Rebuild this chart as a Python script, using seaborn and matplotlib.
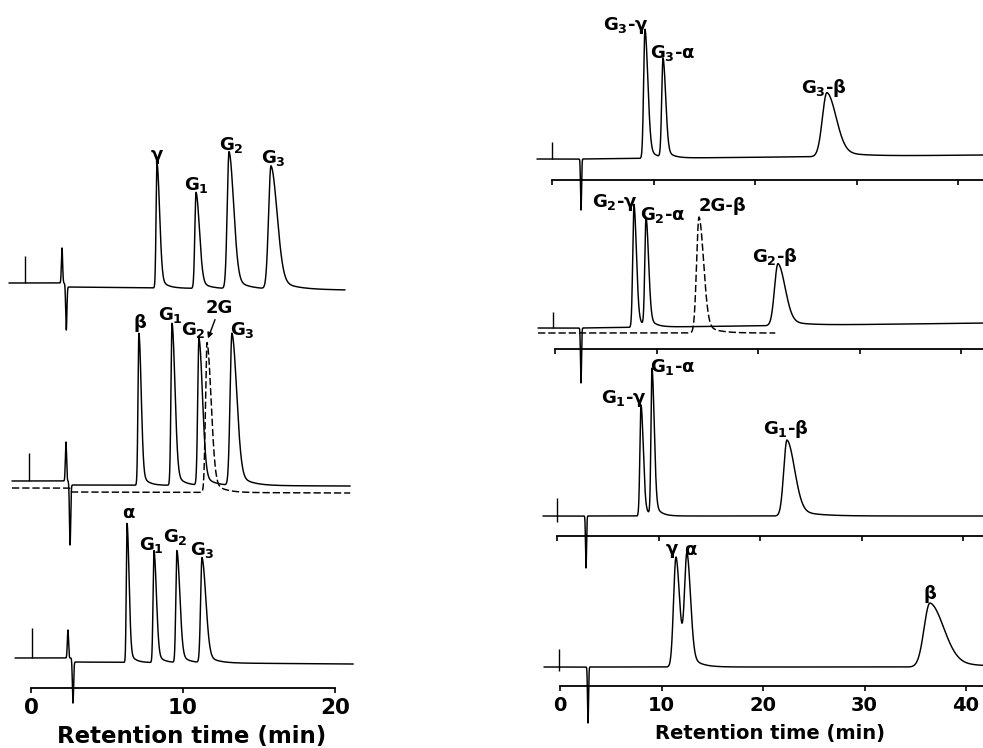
import numpy as np
import matplotlib
matplotlib.use("Agg")
import matplotlib.pyplot as plt
import seaborn as sns

# ---------------- peak tables ----------------
# time in min, height in px above the local baseline, rise / fall widths in min

# left column, top run (gamma, G1, G2, G3)
lt_time = [8.29, 10.86, 13.03, 15.79]
lt_height = [125, 96, 137, 123]
lt_wl = [0.06, 0.08, 0.12, 0.16]
lt_wr = [0.17, 0.22, 0.30, 0.40]

# left column, middle run (beta, G1, G2, G3) and dashed 2G
lm_time = [7.10, 9.28, 11.05, 13.22]
lm_height = [152, 162, 147, 152]
lm_wl = [0.06, 0.07, 0.08, 0.12]
lm_wr = [0.15, 0.19, 0.23, 0.31]
lmd_time = [11.58]
lmd_height = [150]
lmd_wl = [0.10]
lmd_wr = [0.27]

# left column, bottom run (alpha, G1, G2, G3)
lb_time = [6.32, 8.09, 9.60, 11.25]
lb_height = [139, 112, 112, 105]
lb_wl = [0.05, 0.06, 0.07, 0.09]
lb_wr = [0.13, 0.16, 0.19, 0.25]

# right column, runs 1-4 (top to bottom)
r1_time = [9.16, 10.94, 27.09]
r1_height = [129, 99, 64]
r1_wl = [0.13, 0.13, 0.45]
r1_wr = [0.28, 0.26, 0.90]

r2_time = [7.78, 8.97, 21.97]
r2_height = [123, 108, 62]
r2_wl = [0.12, 0.12, 0.34]
r2_wr = [0.24, 0.25, 0.70]
r2d_time = [14.19]
r2d_height = [116]
r2d_wl = [0.24]
r2d_wr = [0.45]

r3_time = [8.28, 9.36, 22.66]
r3_height = [111, 146, 76]
r3_wl = [0.11, 0.10, 0.32]
r3_wr = [0.22, 0.22, 0.75]

r4_time = [11.43, 12.51, 36.45]
r4_height = [110, 110, 64]
r4_wl = [0.24, 0.24, 0.58]
r4_wr = [0.35, 0.35, 1.35]

# peak labels
left_labels = ['γ', 'G$_1$', 'G$_2$', 'G$_3$',
               'β', 'G$_1$', 'G$_2$', '2G', 'G$_3$',
               'α', 'G$_1$', 'G$_2$', 'G$_3$']
r1_labels = ['G$_3$-γ', 'G$_3$-α', 'G$_3$-β']
r2_labels = ['G$_2$-γ', 'G$_2$-α', '2G-β', 'G$_2$-β']
r3_labels = ['G$_1$-γ', 'G$_1$-α', 'G$_1$-β']
r4_labels = ['γ', 'α', 'β']

left_ticks = [0, 10, 20]
right_ticks = [0, 10, 20, 30, 40]

# ---------------- layout (pixels of the 983x748 picture) ----------------
W, H = 983, 748
left_lab_x = [157, 196, 231, 273, 140, 170, 193, 219, 242, 128, 151, 175, 202]
left_lab_y = [160, 190, 150, 163, 328, 320, 335, 313, 335, 518, 550, 542, 555]
r1_lab_x, r1_lab_y = [626, 673, 824], [30, 58, 93]
r2_lab_x, r2_lab_y = [615, 663, 723, 775], [207, 220, 211, 262]
r3_lab_x, r3_lab_y = [624, 673, 786], [403, 372, 434]
r4_lab_x, r4_lab_y = [672, 690, 930], [554, 555, 599]

sns.set_theme(style="white")
plt.rcParams['font.family'] = ['DejaVu Sans']
plt.rcParams['font.weight'] = 'bold'
plt.rcParams['mathtext.fontset'] = 'dejavusans'
plt.rcParams['mathtext.default'] = 'bf'
plt.rcParams['text.color'] = 'black'
plt.rcParams['axes.labelcolor'] = 'black'
plt.rcParams['xtick.color'] = 'black'

fig = plt.figure(figsize=(W / 100, H / 100), dpi=100)


def make_axes(off, scale, axis_px, t_lo, t_hi, ticks, bound_hi, labels_on, fs):
    left = off + t_lo * scale
    width = (t_hi - t_lo) * scale
    ax = fig.add_axes([left / W, (H - axis_px) / H, width / W, axis_px / H])
    ax.patch.set_alpha(0)
    ax.set_xlim(t_lo, t_hi)
    ax.set_ylim(0, axis_px)
    for s in ['top', 'left', 'right']:
        ax.spines[s].set_visible(False)
    ax.spines['bottom'].set_color('black')
    ax.spines['bottom'].set_linewidth(1.3)
    ax.spines['bottom'].set_bounds(0, bound_hi)
    ax.set_yticks([])
    ax.set_xticks(ticks)
    ax.tick_params(axis='x', direction='out', length=3.5, width=1.2, color='black',
                   labelsize=fs, pad=3.5, labelbottom=labels_on, bottom=True,
                   labelcolor='black')
    ax.set_xticklabels([str(v) for v in ticks], fontweight='heavy')
    ax.off, ax.scale, ax.axis_px = off, scale, axis_px
    return ax


def peaks(t, times, heights, wl, wr, tail=0.12):
    y = np.zeros_like(t)
    for t0, h, sl, sr in zip(times, heights, wl, wr):
        d = t - t0
        lft = np.exp(-0.5 * (d / sl) ** 2)
        rgt = (1 - tail) * np.exp(-0.5 * (d / sr) ** 2) + tail * np.exp(-np.clip(d, 0, None) / (2.5 * sr))
        y += h * np.where(d < 0, lft, rgt)
    return y


def trace(ax, t0, t1, base, pk, t_up=None, up=0, t_dn=2.5, dn=0, step=0, drift=0,
          ls='-', w=0.04):
    t = np.linspace(t0, t1, 14000)
    y = base + peaks(t, *pk)
    if t_up is not None:
        y += up * np.exp(-0.5 * ((t - t_up) / w) ** 2)
    y -= dn * np.exp(-0.5 * ((t - t_dn) / w) ** 2)
    y -= step * 0.5 * (1 + np.tanh((t - t_dn) / 0.04))
    y += drift * np.clip((t - t_dn) / (t1 - t_dn), 0, 1)
    sns.lineplot(x=t, y=y, ax=ax, color='black', lw=1.05, estimator=None, sort=False,
                 clip_on=False, linestyle=ls)


def marker(ax, t, lo, hi):
    ax.vlines(t, lo, hi, color='black', lw=1.0, clip_on=False)


def put_labels(ax, texts, xs, ys, fs=13):
    for s, x, y in zip(texts, xs, ys):
        ax.text((x - ax.off) / ax.scale, ax.axis_px - y, s, ha='center', va='baseline',
                fontsize=fs, fontweight='bold', color='black', clip_on=False)


# ---------------- left column ----------------
axL = make_axes(31, 15.2, 688, -2.0, 21.6, left_ticks, 20, True, 15.5)
trace(axL, -1.45, 20.66, 405, (lt_time, lt_height, lt_wl, lt_wr),
      t_up=2.04, up=35, t_dn=2.32, dn=45, step=4, drift=-3)
marker(axL, -0.39, 405, 432)
trace(axL, -1.25, 21.0, 207, (lm_time, lm_height, lm_wl, lm_wr),
      t_up=2.30, up=39, t_dn=2.57, dn=62, step=4, drift=-1)
trace(axL, -1.25, 21.0, 200, (lmd_time, lmd_height, lmd_wl, lmd_wr),
      t_dn=2.6, dn=0, step=4, drift=-1, ls=(0, (5, 2)))
marker(axL, -0.13, 207, 235)
trace(axL, -1.05, 21.2, 30, (lb_time, lb_height, lb_wl, lb_wr),
      t_up=2.43, up=28, t_dn=2.76, dn=43, step=4, drift=-2)
marker(axL, 0.07, 30, 60)
put_labels(axL, left_labels, left_lab_x, left_lab_y)
axL.annotate('', xy=((207 - 31) / 15.2, 688 - 341), xytext=((216 - 31) / 15.2, 688 - 317),
             arrowprops=dict(arrowstyle='-|>', color='black', lw=1.0, mutation_scale=8))
axL.set_xlabel('Retention time (min)', fontsize=16.5, fontweight='heavy')
axL.xaxis.set_label_coords(0.532, -0.054)

# ---------------- right column ----------------
ax1 = make_axes(552, 10.15, 180, -2.4, 42.6, right_ticks, 42.6, False, 14)
trace(ax1, -1.48, 42.6, 21, (r1_time, r1_height, r1_wl, r1_wr),
      t_dn=2.86, dn=51, drift=4, w=0.05)
marker(ax1, 0.0, 21, 38)
put_labels(ax1, r1_labels, r1_lab_x, r1_lab_y)

ax2 = make_axes(555, 10.15, 349, -2.4, 42.6, right_ticks, 42.6, False, 14)
trace(ax2, -1.67, 42.6, 21, (r2_time, r2_height, r2_wl, r2_wr),
      t_dn=2.56, dn=55, drift=5, w=0.05)
trace(ax2, -1.67, 21.7, 16, (r2d_time, r2d_height, r2d_wl, r2d_wr),
      t_dn=2.6, dn=0, ls=(0, (5, 2)))
marker(ax2, -0.2, 21, 37)
put_labels(ax2, r2_labels, r2_lab_x, r2_lab_y)

ax3 = make_axes(557, 10.15, 536, -2.4, 42.6, right_ticks, 42.6, False, 14)
trace(ax3, -1.38, 42.6, 20, (r3_time, r3_height, r3_wl, r3_wr),
      t_dn=2.86, dn=52, w=0.05)
marker(ax3, 0.0, 14, 38)
put_labels(ax3, r3_labels, r3_lab_x, r3_lab_y)

ax4 = make_axes(560, 10.15, 686, -2.4, 42.6, right_ticks, 42.6, True, 14)
trace(ax4, -1.58, 42.6, 19, (r4_time, r4_height, r4_wl, r4_wr),
      t_dn=2.76, dn=56, w=0.05)
marker(ax4, -0.1, 15, 37)
put_labels(ax4, r4_labels, r4_lab_x, r4_lab_y)
ax4.set_xlabel('Retention time (min)', fontsize=14, fontweight='heavy')
ax4.xaxis.set_label_coords(0.513, -0.056)

fig.savefig('out.png', dpi=100)
